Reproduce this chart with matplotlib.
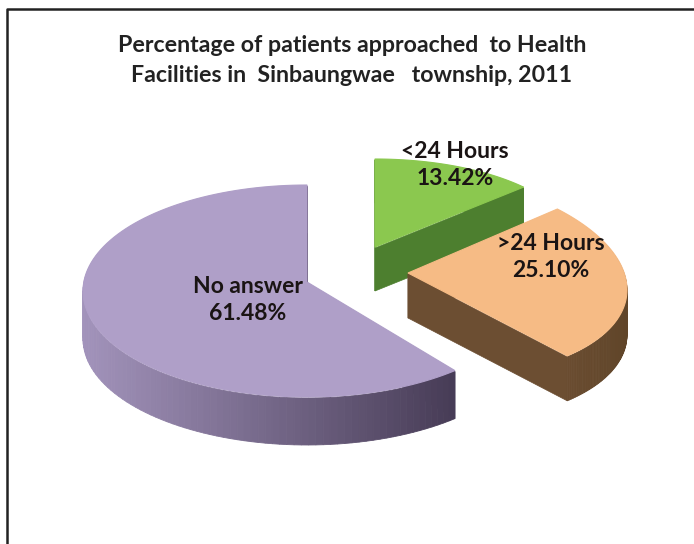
import numpy as np
import matplotlib
matplotlib.use("Agg")
import matplotlib.pyplot as plt
from matplotlib.colors import to_rgb

plt.rcParams["font.family"] = ["Lato", "DejaVu Sans"]

title_lines = ["Percentage of patients approached  to Health",
               "Facilities in  Sinbaungwae   township, 2011"]
categories = ["No answer", "<24 Hours", ">24 Hours"]
values = [61.48, 13.42, 25.10]

# -------------------------
# Slice geometry, in image pixels
# -------------------------
tips = [(307, 282), (375, 247), (408, 273)]
centers = [(307, 291), (375, 243), (408, 273)]
radii = [(224, 106), (199, 84), (219, 103)]
tilts = [0.0, 0.0, 0.076]
depths = [48, 44, 45]
start_angles = [90, 41.7, 47]
sweep_signs = [1, 1, -1]

top_colors = ["#af9fc8", "#8bc84f", "#f6bb85"]
side_start = ["#a293bb", "#4d7f2f", "#6c4e32"]
side_end = ["#463b55", "#4d7f2f", "#604529"]
label_pos = [(248, 300), (455, 165), (551, 257)]


def slice_outline(i):
    sweep = values[i] * 3.6 * sweep_signs[i]
    t = np.radians(np.linspace(start_angles[i], start_angles[i] + sweep, 120))
    x = centers[i][0] + radii[i][0] * np.cos(t)
    y = centers[i][1] - radii[i][1] * np.sin(t) + tilts[i] * radii[i][0] * np.cos(t)
    return x, y


def blend(c0, c1, f):
    a, b = np.array(to_rgb(c0)), np.array(to_rgb(c1))
    return tuple(a + (b - a) * f)


fig = plt.figure(figsize=(6.94, 5.44), dpi=100)
ax = fig.add_axes([0, 0, 1, 1])
ax.set_xlim(0, 694)
ax.set_ylim(544, 0)
ax.axis("off")

# frame of the original page
ax.plot([7, 7, 694], [544, 9, 9], color="#222222", lw=1.8, zorder=1)

for i in [0, 1, 2]:
    x, y = slice_outline(i)
    d = depths[i]
    tip_x, tip_y = tips[i]

    # cut faces first, then the curved side
    for ex, ey in [(x[0], y[0]), (x[-1], y[-1])]:
        ax.fill([tip_x, ex, ex, tip_x], [tip_y + 1, ey + 1, ey + d, tip_y + d],
                color=side_start[i] if i else side_end[i], lw=0.5, zorder=2 + i)

    span = x.max() - x.min()
    for k in range(len(x) - 1):
        f = (x[k] - x.min()) / span
        c = blend(side_start[i], side_end[i], f)
        ax.fill([x[k], x[k + 1], x[k + 1], x[k]],
                [y[k] + 1, y[k + 1] + 1, y[k + 1] + d, y[k] + d],
                color=c, lw=0.6, zorder=2 + i)

    ax.fill(np.r_[tip_x, x], np.r_[tip_y, y], color=top_colors[i], lw=0.8, zorder=2 + i)

for i in range(3):
    ax.text(label_pos[i][0], label_pos[i][1],
            "%s\n%.2f%%" % (categories[i], values[i]),
            ha="center", va="center", fontsize=16.5, fontweight="bold",
            color="#1a1414", linespacing=1.4, zorder=10)

ax.text(352, 45, title_lines[0], ha="center", va="center",
        fontsize=16.7, fontweight="bold", color="#222222")
ax.text(352, 76, title_lines[1], ha="center", va="center",
        fontsize=16.7, fontweight="bold", color="#222222")

fig.savefig("out.png", dpi=100)
